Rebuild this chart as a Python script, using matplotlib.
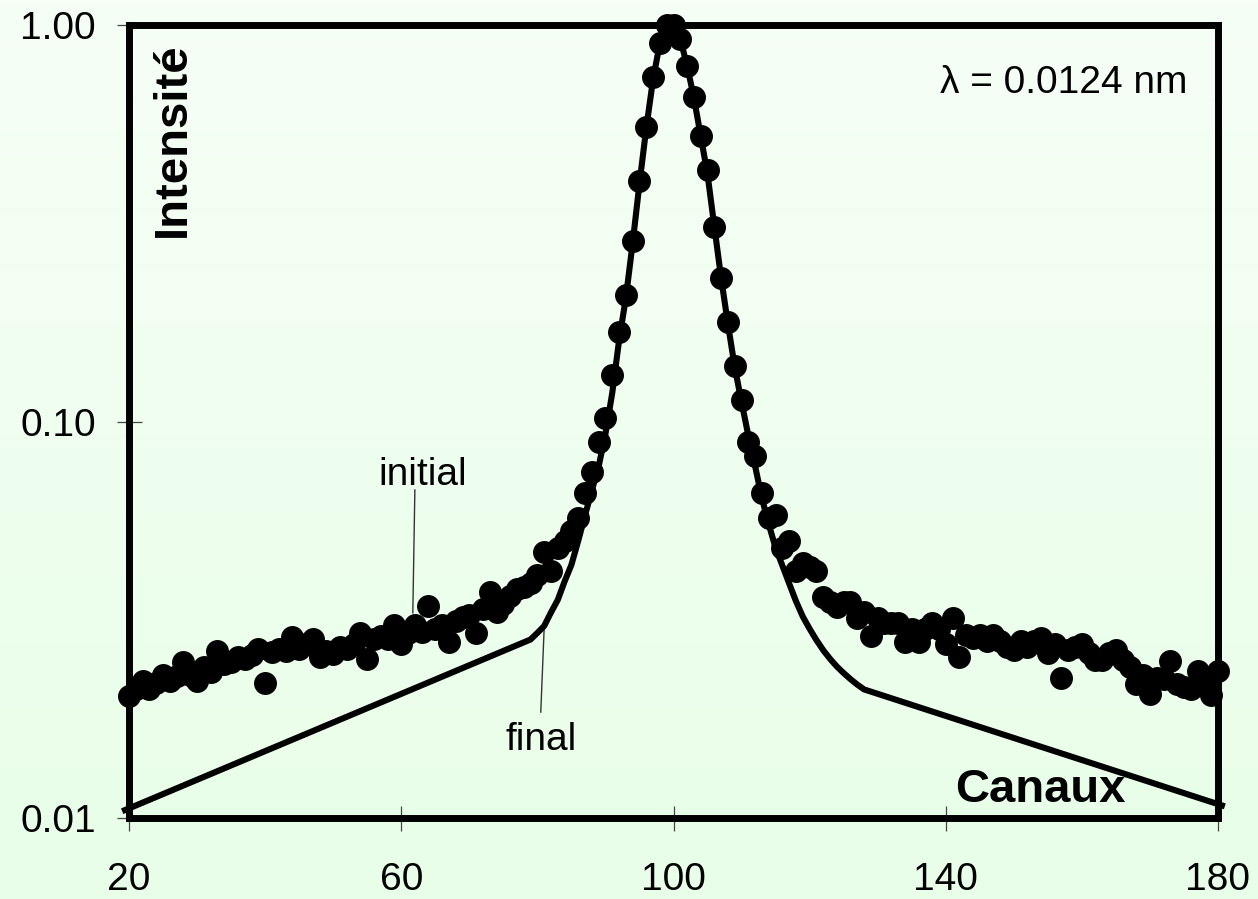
import numpy as np
import matplotlib
matplotlib.use("Agg")
import matplotlib.pyplot as plt
from matplotlib.ticker import NullLocator

plt.rcParams["font.family"] = ["Liberation Sans", "DejaVu Sans"]

# Measured spectrum (normalised intensity per channel, channels 20..180)
channels = list(range(20, 181))
initial = [
    # 20-29
    0.0203, 0.0211, 0.0221, 0.0211, 0.0219, 0.0229, 0.0221, 0.0228, 0.0248, 0.0229,
    # 30-39
    0.0221, 0.0240, 0.0234, 0.0263, 0.0244, 0.0248, 0.0254, 0.0252, 0.0257, 0.0267,
    # 40-49
    0.0219, 0.0262, 0.0267, 0.0263, 0.0286, 0.0267, 0.0275, 0.0282, 0.0254, 0.0263,
    # 50-59
    0.0259, 0.0270, 0.0267, 0.0275, 0.0293, 0.0252, 0.0282, 0.0287, 0.0282, 0.0307,
    # 60-69
    0.0275, 0.0292, 0.0307, 0.0295, 0.0342, 0.0299, 0.0307, 0.0278, 0.0314, 0.0321,
    # 70-79
    0.0325, 0.0293, 0.0336, 0.0371, 0.0331, 0.0347, 0.0363, 0.0377, 0.0383, 0.0392,
    # 80-89
    0.0411, 0.0470, 0.0420, 0.0480, 0.0500, 0.0530, 0.0570, 0.0660, 0.0744, 0.0890,
    # 90-99
    0.102, 0.131, 0.168, 0.208, 0.286, 0.405, 0.553, 0.740, 0.900, 1.000,
    # 100-109
    1.000, 0.920, 0.790, 0.660, 0.525, 0.430, 0.310, 0.230, 0.178, 0.138,
    # 110-119
    0.113, 0.089, 0.082, 0.066, 0.057, 0.058, 0.048, 0.050, 0.042, 0.044,
    # 120-129
    0.043, 0.042, 0.036, 0.035, 0.034, 0.035, 0.035, 0.032, 0.033, 0.0288,
    # 130-139
    0.032, 0.031, 0.031, 0.031, 0.0278, 0.030, 0.0278, 0.030, 0.031, 0.030,
    # 140-149
    0.0275, 0.032, 0.0255, 0.029, 0.0285, 0.029, 0.028, 0.029, 0.028, 0.027,
    # 150-159
    0.0265, 0.028, 0.027, 0.028, 0.0285, 0.026, 0.0275, 0.0225, 0.0265, 0.027,
    # 160-169
    0.0275, 0.026, 0.025, 0.025, 0.026, 0.0265, 0.025, 0.024, 0.0218, 0.023,
    # 170-180
    0.0206, 0.0225, 0.0224, 0.0249, 0.0218, 0.0214, 0.0212, 0.0235, 0.0220, 0.0204,
    0.0235,
]

# Fitted (final) profile vertices
final_channels = [19, 79, 80, 81, 82, 83, 84, 85, 86, 87, 88, 89, 90, 91, 92, 93,
                  94, 95, 96, 97, 98, 99, 100, 101, 102, 103, 104, 105, 106, 107,
                  108, 109, 110, 111, 112, 113, 114, 115, 116, 117, 118, 119, 120,
                  121, 122, 123, 124, 125, 126, 127, 128, 181]
final = [0.0104, 0.0282, 0.0293, 0.0305, 0.0330, 0.0355, 0.0395, 0.0435, 0.0500,
         0.0580, 0.0670, 0.0770, 0.0930, 0.118, 0.160, 0.205, 0.282, 0.398, 0.550,
         0.730, 0.900, 1.000, 1.000, 0.920, 0.790, 0.655, 0.525, 0.420, 0.310,
         0.230, 0.176, 0.137, 0.112, 0.092, 0.077, 0.064, 0.055, 0.048, 0.0433,
         0.0390, 0.0352, 0.0322, 0.0300, 0.0281, 0.0265, 0.0252, 0.0241, 0.0232,
         0.0224, 0.0217, 0.0211, 0.0107]

x_ticks = [20, 60, 100, 140, 180]
x_tick_labels = ["20", "60", "100", "140", "180"]
y_ticks = [0.01, 0.1, 1.0]
y_tick_labels = ["0.01", "0.10", "1.00"]

W, H = 1258, 899
fig = plt.figure(figsize=(W / 100, H / 100), dpi=100)

# soft green vertical gradient background
bg = fig.add_axes([0, 0, 1, 1], zorder=-10)
top = np.array([246, 254, 246]) / 255
bottom = np.array([232, 254, 232]) / 255
t = np.linspace(0, 1, 256)[:, None]
grad = top[None, :] * (1 - t) + bottom[None, :] * t
bg.imshow(grad[:, None, :], aspect="auto", extent=[0, 1, 0, 1])
bg.axis("off")

L, R, T, B = 129, 1218, 25, 818
ax = fig.add_axes([L / W, 1 - B / H, (R - L) / W, (B - T) / H])
ax.patch.set_alpha(0)
ax.set_yscale("log")
ax.set_xlim(20, 180)
ax.set_ylim(0.01, 1.0)

ax.plot(final_channels, final, color="black", lw=4.4, clip_on=False,
        solid_joinstyle="round", solid_capstyle="butt", zorder=3)
ax.plot(channels, initial, "o", ms=15.5, color="black", mec="black",
        clip_on=False, zorder=4)

for s in ax.spines.values():
    s.set_linewidth(5)
    s.set_color("black")
    s.set_zorder(2)

ax.set_xticks(x_ticks)
ax.set_xticklabels(x_tick_labels)
ax.set_yticks(y_ticks)
ax.set_yticklabels(y_tick_labels)
ax.yaxis.set_minor_locator(NullLocator())
ax.tick_params(axis="both", direction="inout", length=18, width=0.9,
               color="#444444", labelsize=28, labelcolor="black")
ax.tick_params(axis="x", pad=23)
ax.tick_params(axis="y", pad=15)

# annotations
ax.text(63.2, 0.069, "initial", ha="center", va="baseline", fontsize=28)
ax.plot([62.0, 61.7], [0.0672, 0.0329], color="#333333", lw=1.0, zorder=2)
ax.text(80.5, 0.0148, "final", ha="center", va="baseline", fontsize=28)
ax.plot([80.5, 81.0], [0.0185, 0.0302], color="#333333", lw=1.0, zorder=2)

fig.text(173 / W, 1 - 140 / H, "Intensité", rotation=90, ha="center",
         va="center", fontsize=34, fontweight="bold")
fig.text(1040 / W, 1 - 802 / H, "Canaux", ha="center", va="baseline",
         fontsize=34, fontweight="bold")
fig.text(1187 / W, 1 - 93 / H, "λ = 0.0124 nm", ha="right", va="baseline",
         fontsize=28)

fig.savefig("out.png", dpi=100)
